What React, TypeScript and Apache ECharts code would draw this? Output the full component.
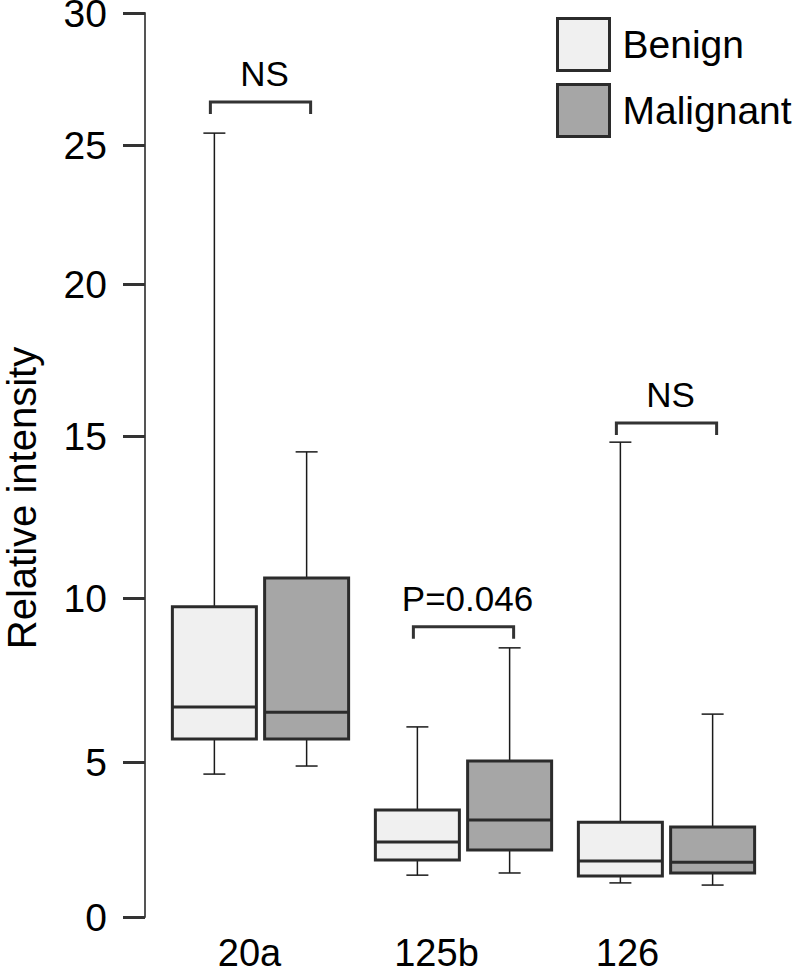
import React, { useEffect, useRef } from "react";
import * as echarts from "echarts";

// ---- data ----
const categories = ["20a", "125b", "126"];
// [min, Q1, median, Q3, max]
const benignStats = [
  [4.61, 5.7, 6.68, 9.73, 25.45],
  [1.35, 1.84, 2.42, 3.45, 6.07],
  [1.1, 1.32, 1.81, 3.06, 14.81],
];
const malignantStats = [
  [4.87, 5.7, 6.52, 10.62, 14.51],
  [1.42, 2.16, 3.13, 5.03, 8.48],
  [1.03, 1.42, 1.77, 2.9, 6.46],
];
const annotationLabels = ["NS", "P=0.046", "NS"];
const annotationLevels = [26.63, 9.12, 15.43];
const yTickValues = [0, 5, 10, 15, 20, 25, 30];
// the reference's y axis is unevenly spaced: calibration of each tick value on the axis
const yTickScale = [0, 155, 319, 481, 633, 772, 904];

const FONT = "Liberation Sans, Arial, Helvetica, sans-serif";

function warp(v: number): number {
  for (let i = 1; i < yTickValues.length; i++) {
    if (v <= yTickValues[i] || i === yTickValues.length - 1) {
      const v0 = yTickValues[i - 1], v1 = yTickValues[i];
      const s0 = yTickScale[i - 1], s1 = yTickScale[i];
      return s0 + ((v - v0) / (v1 - v0)) * (s1 - s0);
    }
  }
  return 0;
}

const BOX_W = 84;
const CAP_W = 22;
const EDGE = "#2b2b2b";

function makeBoxRender(side: number, fill: string) {
  return (params: any, api: any) => {
    const cat = api.value(0);
    const band = api.size([1, 0])[0];
    const cx = api.coord([cat, 0])[0] + side * band * 0.2272;
    const yLow = api.coord([cat, api.value(1)])[1];
    const yQ1 = api.coord([cat, api.value(2)])[1];
    const yMed = api.coord([cat, api.value(3)])[1];
    const yQ3 = api.coord([cat, api.value(4)])[1];
    const yHigh = api.coord([cat, api.value(5)])[1];
    const thin = { stroke: "#1a1a1a", lineWidth: 1.5 };
    const h = BOX_W / 2;
    const c = CAP_W / 2;
    return {
      type: "group",
      children: [
        { type: "line", shape: { x1: cx, y1: yQ3, x2: cx, y2: yHigh }, style: thin },
        { type: "line", shape: { x1: cx, y1: yQ1, x2: cx, y2: yLow }, style: thin },
        { type: "line", shape: { x1: cx - c, y1: yHigh, x2: cx + c, y2: yHigh }, style: thin },
        { type: "line", shape: { x1: cx - c, y1: yLow, x2: cx + c, y2: yLow }, style: thin },
        {
          type: "rect",
          shape: { x: cx - h, y: yQ3, width: BOX_W, height: yQ1 - yQ3 },
          style: { fill, stroke: EDGE, lineWidth: 3 },
        },
        {
          type: "line",
          shape: { x1: cx - h, y1: yMed, x2: cx + h, y2: yMed },
          style: { stroke: EDGE, lineWidth: 3 },
        },
      ],
    };
  };
}

function bracketRender(params: any, api: any) {
  const cat = api.value(0);
  const band = api.size([1, 0])[0];
  const center = api.coord([cat, 0])[0];
  const y = api.coord([cat, api.value(1)])[1];
  const half = band * 0.2272 + 4;
  const x1 = center - half;
  const x2 = center + half;
  return {
    type: "group",
    children: [
      {
        type: "polyline",
        shape: { points: [[x1, y + 12], [x1, y], [x2, y], [x2, y + 12]] },
        style: { fill: "none", stroke: "#333", lineWidth: 3 },
      },
      {
        type: "text",
        x: center + 4,
        y: y - 11,
        style: {
          text: annotationLabels[cat],
          fontSize: 35,
          fontFamily: FONT,
          fill: "#000",
          align: "center",
          verticalAlign: "bottom",
        },
      },
    ],
  };
}

const labelShift = [22, 54, 78];

export default function App() {
  const ref = useRef<HTMLDivElement>(null);
  useEffect(() => {
    document.body.style.margin = "0";
    const chart = echarts.init(ref.current!, null, { renderer: "svg" });
    const toData = (stats: number[][]) =>
      stats.map((s, i) => [i, ...s.map(warp)]);
    const option: any = {
      animation: false,
      backgroundColor: "#fff",
      grid: { left: 159, right: 32, top: 13, bottom: 55, outerBoundsMode: "none", containLabel: false },
      legend: {
        orient: "vertical",
        left: 556,
        top: 17,
        padding: 0,
        itemWidth: 52,
        itemHeight: 52,
        itemGap: 11,
        selectedMode: false,
        textStyle: { fontSize: 39, fontFamily: FONT, color: "#000", padding: [0, 0, 0, 8] },
        data: [
          { name: "Benign", icon: "rect", itemStyle: { color: "#f0f0f0", borderColor: EDGE, borderWidth: 3 } },
          { name: "Malignant", icon: "rect", itemStyle: { color: "#a6a6a6", borderColor: EDGE, borderWidth: 3 } },
        ],
      },
      xAxis: {
        type: "category",
        data: categories.map((c, i) => ({
          value: c,
          textStyle: { padding: [0, labelShift[i], 0, 0] },
        })),
        axisLine: { show: false },
        axisTick: { show: false },
        axisLabel: { fontSize: 38, lineHeight: 34, fontFamily: FONT, color: "#000", margin: 19 },
      },
      yAxis: {
        type: "value",
        min: 0,
        max: yTickScale[yTickScale.length - 1],
        offset: 14,
        splitLine: { show: false },
        axisLine: { show: true, lineStyle: { color: "#555", width: 2 } },
        axisTick: {
          show: true,
          length: 22,
          lineStyle: { color: "#333", width: 3 },
          customValues: yTickScale,
        },
        axisLabel: {
          fontSize: 39,
          lineHeight: 26,
          fontFamily: FONT,
          color: "#000",
          margin: 38,
          customValues: yTickScale,
          formatter: (v: number) => {
            let best = 0;
            yTickScale.forEach((s, i) => {
              if (Math.abs(s - v) < Math.abs(yTickScale[best] - v)) best = i;
            });
            return String(yTickValues[best]);
          },
        },
      },
      graphic: [
        {
          type: "text",
          x: 22,
          y: 498,
          rotation: Math.PI / 2,
          style: {
            text: "Relative intensity",
            fontSize: 40,
            lineHeight: 40,
            fontFamily: FONT,
            fill: "#000",
            align: "center",
            verticalAlign: "middle",
          },
        },
      ],
      series: [
        {
          name: "Benign",
          type: "custom",
          renderItem: makeBoxRender(-1, "#f0f0f0"),
          itemStyle: { color: "#f0f0f0", borderColor: EDGE, borderWidth: 3 },
          dimensions: ["cat", "low", "q1", "med", "q3", "high"],
          encode: { x: 0, y: [1, 2, 3, 4, 5] },
          data: toData(benignStats),
        },
        {
          name: "Malignant",
          type: "custom",
          renderItem: makeBoxRender(1, "#a6a6a6"),
          itemStyle: { color: "#a6a6a6", borderColor: EDGE, borderWidth: 3 },
          dimensions: ["cat", "low", "q1", "med", "q3", "high"],
          encode: { x: 0, y: [1, 2, 3, 4, 5] },
          data: toData(malignantStats),
        },
        {
          name: "annotations",
          type: "custom",
          renderItem: bracketRender,
          encode: { x: 0, y: 1 },
          data: annotationLevels.map((v, i) => [i, warp(v)]),
        },
      ],
    };
    chart.setOption(option);
    return () => chart.dispose();
  }, []);
  return <div ref={ref} style={{ width: 800, height: 972 }} />;
}
